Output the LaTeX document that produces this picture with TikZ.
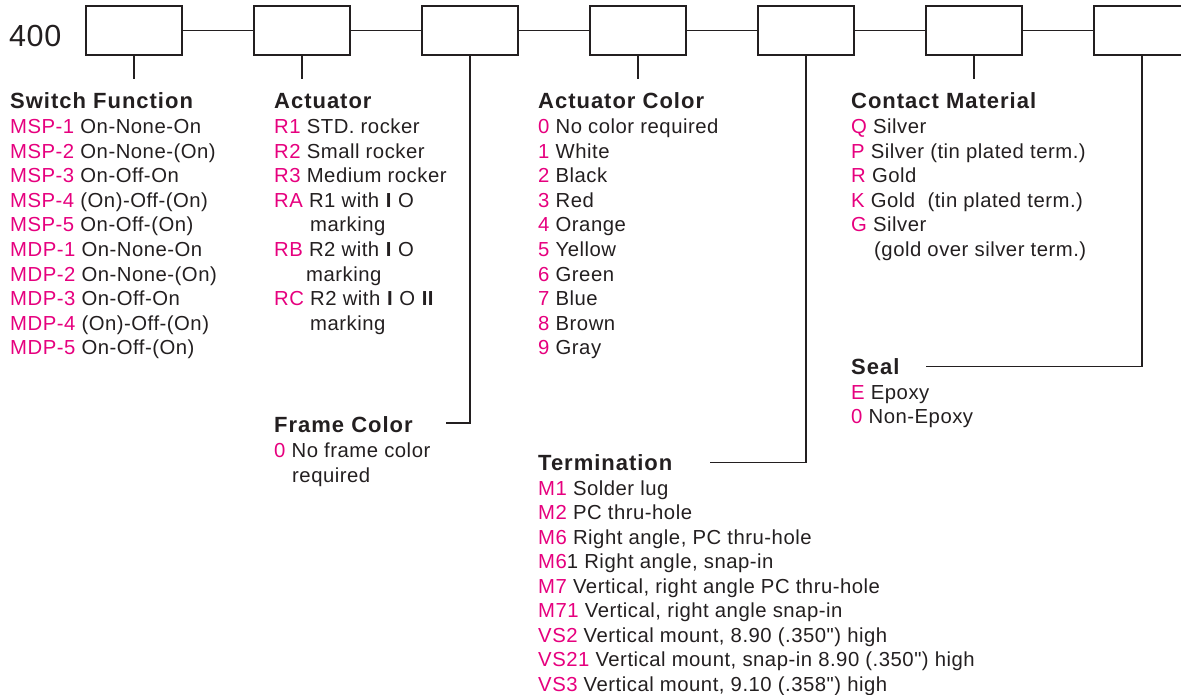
\documentclass[tikz,border=0pt]{standalone}
\usepackage{fontspec}
\setmainfont{Liberation Sans}[LetterSpace=2.5,Ligatures=TeXOff]
\newfontfamily\titlefont{Liberation Sans}[LetterSpace=4.5]
\newfontfamily\numfont{Liberation Sans}[LetterSpace=2]
\definecolor{codepink}{HTML}{E6007E}
\definecolor{ink}{HTML}{231F20}
\newcommand\itm[5]{\node[itemtxt] (#1) at (#2,#3) {\textcolor{codepink}{#4} #5};}
\newcommand\cont[4]{\node[itemtxt] (#1) at (#2,#3) {#4};}
\newcommand\ttl[4]{\node[titletxt] (#1) at (#2,#3) {#4};}
\begin{document}
\begin{tikzpicture}[x=1pt,y=-1pt,
  codebox/.style={draw=ink,line width=1.3pt,minimum width=96pt,minimum height=49pt,inner sep=0pt},
  wire/.style={draw=ink,line width=1.3pt},
  itemtxt/.style={anchor=base west,inner sep=0pt,text=ink,font=\fontsize{20.3}{24}\selectfont},
  titletxt/.style={anchor=base west,inner sep=0pt,text=ink,font=\titlefont\bfseries\fontsize{22}{24}\selectfont}]
\useasboundingbox (0,0) rectangle (1181,695);
\clip (0,0) rectangle (1181,695);
\node[anchor=base west,inner sep=0pt,text=ink,font=\numfont\fontsize{30.5}{32}\selectfont] (code) at (9,47) {400};
\foreach \i in {1,...,7}{
  \node[codebox] (b\i) at ({134+168*(\i-1)},30.5) {};
}
\foreach \i/\j in {1/2,2/3,3/4,4/5,5/6,6/7}{
  \draw[wire] (b\i) -- (b\j);
}
% short ticks
\coordinate (t1) at (134,79);
\coordinate (t2) at (302,79);
\coordinate (t4) at (638,79);
\coordinate (t6) at (974,79);
\draw[wire] (b1.south) -- (t1);
\draw[wire] (b2.south) -- (t2);
\draw[wire] (b4.south) -- (t4);
\draw[wire] (b6.south) -- (t6);
% long leaders
\coordinate (fcend) at (446,423);
\coordinate (tmend) at (710,462.5);
\coordinate (seend) at (926,366.5);
\draw[wire] (b3.south) |- (fcend);
\draw[wire] (b5.south) |- (tmend);
\draw[wire] (b7.south) |- (seend);
% Switch Function
\ttl{tsf}{10}{109}{Switch Function}
\itm{sf1}{10}{134}{MSP-1}{On-None-On}
\itm{sf2}{10}{158.5}{MSP-2}{On-None-(On)}
\itm{sf3}{10}{183}{MSP-3}{On-Off-On}
\itm{sf4}{10}{207.5}{MSP-4}{(On)-Off-(On)}
\itm{sf5}{10}{232}{MSP-5}{On-Off-(On)}
\itm{sf6}{10}{256.5}{MDP-1}{On-None-On}
\itm{sf7}{10}{281}{MDP-2}{On-None-(On)}
\itm{sf8}{10}{305.5}{MDP-3}{On-Off-On}
\itm{sf9}{10}{330}{MDP-4}{(On)-Off-(On)}
\itm{sf10}{10}{354.5}{MDP-5}{On-Off-(On)}
% Actuator
\ttl{tac}{274}{109}{Actuator}
\itm{ac1}{274}{134}{R1}{STD. rocker}
\itm{ac2}{274}{158.5}{R2}{Small rocker}
\itm{ac3}{274}{183}{R3}{Medium rocker}
\itm{ac4}{274}{207.5}{RA}{R1 with \textbf{I} O}
\cont{ac4b}{310}{232}{marking}
\itm{ac5}{274}{256.5}{RB}{R2 with \textbf{I} O}
\cont{ac5b}{306}{281}{marking}
\itm{ac6}{274}{305.5}{RC}{R2 with \textbf{I} O \textbf{II}}
\cont{ac6b}{310}{330}{marking}
% Actuator Color
\ttl{tcc}{538}{109}{Actuator Color}
\itm{cc0}{538}{134}{0}{No color required}
\itm{cc1}{538}{158.5}{1}{White}
\itm{cc2}{538}{183}{2}{Black}
\itm{cc3}{538}{207.5}{3}{Red}
\itm{cc4}{538}{232}{4}{Orange}
\itm{cc5}{538}{256.5}{5}{Yellow}
\itm{cc6}{538}{281}{6}{Green}
\itm{cc7}{538}{305.5}{7}{Blue}
\itm{cc8}{538}{330}{8}{Brown}
\itm{cc9}{538}{354.5}{9}{Gray}
% Contact Material
\ttl{tcm}{851}{109}{Contact Material}
\itm{cm1}{851}{134}{Q}{Silver}
\itm{cm2}{851}{158.5}{P}{Silver (tin plated term.)}
\itm{cm3}{851}{183}{R}{Gold}
\itm{cm4}{851}{207.5}{K}{Gold\ \ (tin plated term.)}
\itm{cm5}{851}{232}{G}{Silver}
\cont{cm5b}{874}{256.5}{(gold over silver term.)}
% Seal
\ttl{tse}{851}{374}{Seal}
\itm{se1}{851}{399}{E}{Epoxy}
\itm{se2}{851}{423.5}{0}{Non-Epoxy}
% Frame Color
\ttl{tfc}{274}{432}{Frame Color}
\itm{fc1}{274}{457.5}{0}{No frame color}
\cont{fc1b}{292}{482}{required}
% Termination
\ttl{ttm}{538}{470}{Termination}
\itm{tm1}{538}{495}{M1}{Solder lug}
\itm{tm2}{538}{519.5}{M2}{PC thru-hole}
\itm{tm3}{538}{544}{M6}{Right angle, PC thru-hole}
\node[itemtxt] (tm4) at (538,568.5) {\textcolor{codepink}{M6}1 Right angle, snap-in};
\itm{tm5}{538}{593}{M7}{Vertical, right angle PC thru-hole}
\itm{tm6}{538}{617.5}{M71}{Vertical, right angle snap-in}
\itm{tm7}{538}{642}{VS2}{Vertical mount, 8.90 (.350") high}
\itm{tm8}{538}{666.5}{VS21}{Vertical mount, snap-in 8.90 (.350") high}
\itm{tm9}{538}{691}{VS3}{Vertical mount, 9.10 (.358") high}
\end{tikzpicture}
\end{document}
